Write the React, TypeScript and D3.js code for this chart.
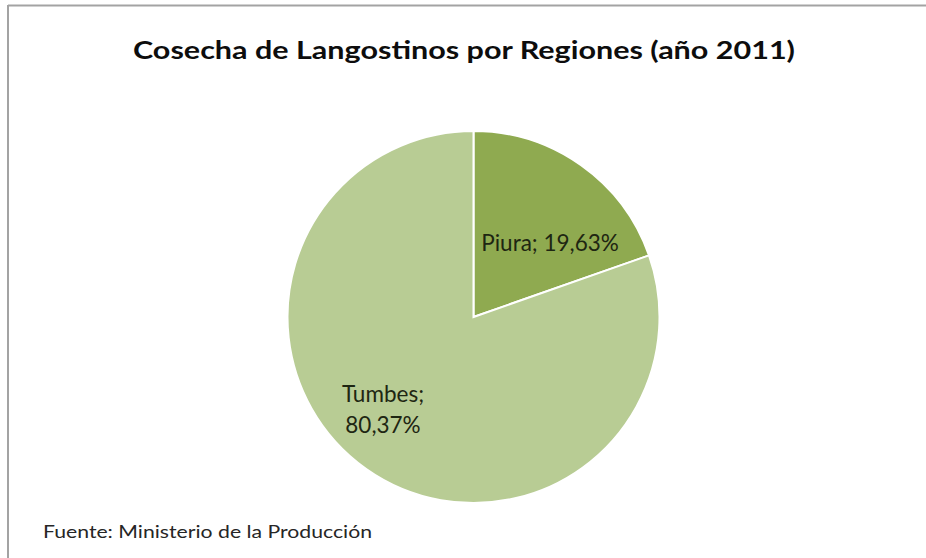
import React from "react";
import * as d3 from "d3";

const categories = ["Piura", "Tumbes"];
const values = [19.63, 80.37];
const labelLines = [["Piura; 19,63%"], ["Tumbes;", "80,37%"]];

const colors = ["#8faa50", "#b8cc94"];
const labelOffsets = [
  { dx: 12, dy: 18 },
  { dx: -26, dy: 2 },
];

const W = 926;
const H = 558;
const cx = 473.5;
const cy = 317;
const R = 186;
const FONT = "Lato, 'Open Sans', 'DejaVu Sans', sans-serif";

export default function App() {
  const pie = d3
    .pie<number>()
    .sort(null)
    .startAngle(0)
    .endAngle(2 * Math.PI)
    .value((d) => d);
  const arcs = pie(values);
  const arcGen = d3.arc<d3.PieArcDatum<number>>().innerRadius(0).outerRadius(R);
  const labelArc = d3
    .arc<d3.PieArcDatum<number>>()
    .innerRadius(R * 0.6)
    .outerRadius(R * 0.6);

  return (
    <svg
      width={W}
      height={H}
      style={{ position: "absolute", left: 0, top: 0, display: "block" }}
    >
      <rect x={0} y={0} width={W} height={H} fill="#ffffff" />
      <line x1={8} y1={5.5} x2={W} y2={5.5} stroke="#a3a3a3" strokeWidth={2} />
      <line x1={8} y1={5} x2={8} y2={H} stroke="#a3a3a3" strokeWidth={2} />
      <text
        x={464}
        y={59}
        textAnchor="middle"
        fontFamily={FONT}
        fontWeight="bold"
        fontSize={25}
        fill="#0d0d0d"
        textLength={662}
        lengthAdjust="spacingAndGlyphs"
      >
        Cosecha de Langostinos por Regiones (año 2011)
      </text>
      <g transform={`translate(${cx},${cy})`}>
        {arcs.map((a, i) => (
          <path
            key={categories[i]}
            d={arcGen(a) || ""}
            fill={colors[i]}
            stroke="#ffffff"
            strokeWidth={2}
          />
        ))}
        {arcs.map((a, i) => {
          const [x, y] = labelArc.centroid(a);
          const lines = labelLines[i];
          const lh = 31;
          const x0 = x + labelOffsets[i].dx;
          const y0 = y + labelOffsets[i].dy - ((lines.length - 1) * lh) / 2;
          return (
            <text
              key={"l" + i}
              textAnchor="middle"
              fontFamily={FONT}
              fontSize={22.5}
              fill="#1e2612"
            >
              {lines.map((ln, j) => (
                <tspan key={j} x={x0} y={y0 + j * lh + 7}>
                  {ln}
                </tspan>
              ))}
            </text>
          );
        })}
      </g>
      <text
        x={43}
        y={538}
        fontFamily={FONT}
        fontSize={16.5}
        fill="#262626"
        textLength={329}
        lengthAdjust="spacingAndGlyphs"
      >
        Fuente: Ministerio de la Producción
      </text>
    </svg>
  );
}
